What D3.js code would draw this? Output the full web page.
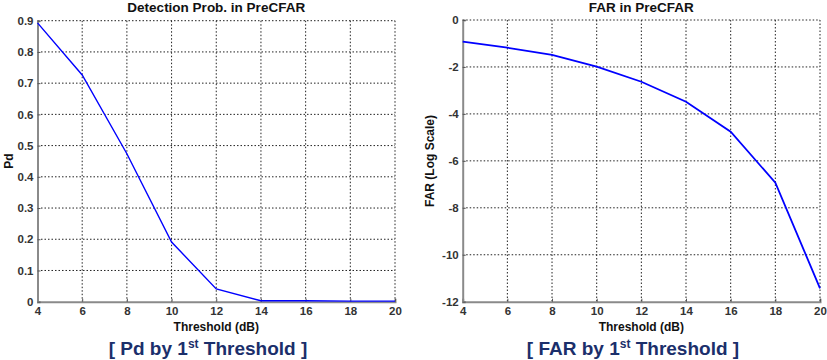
<!DOCTYPE html>
<html><head><meta charset="utf-8">
<script src="https://cdn.jsdelivr.net/npm/d3@7"></script>
<style>
body{margin:0;background:#fff;}
svg{display:block;font-family:"Liberation Sans",Arial,sans-serif;}
</style></head>
<body><svg id="c" width="827" height="360"></svg>
<script>
const thresholds = [4, 6, 8, 10, 12, 14, 16, 18, 20];
const pdValues = [0.893, 0.726, 0.474, 0.191, 0.041, 0.003, 0.003, 0.002, 0.002];
const farValues = [-0.92, -1.18, -1.49, -1.99, -2.63, -3.48, -4.76, -6.93, -11.43];
const xTicks = [4, 6, 8, 10, 12, 14, 16, 18, 20];
const pdTicks = [0, 0.1, 0.2, 0.3, 0.4, 0.5, 0.6, 0.7, 0.8, 0.9];
const farTicks = [-12, -10, -8, -6, -4, -2, 0];

const svg = d3.select("#c");

function panel(opt){
  const g = svg.append("g");
  const x = d3.scaleLinear().domain([4,20]).range([opt.x0, opt.x1]);
  const y = d3.scaleLinear().domain(opt.yDomain).range([opt.yb, opt.yt]);
  g.selectAll(".vg").data(xTicks.slice(1)).join("line")
    .attr("x1", d=>x(d)).attr("x2", d=>x(d)).attr("y1", opt.yt).attr("y2", opt.yb)
    .attr("stroke","#222").attr("stroke-width",1).attr("stroke-dasharray","1.5,2");
  g.selectAll(".hg").data(opt.yTicks.slice(1)).join("line")
    .attr("y1", d=>y(d)).attr("y2", d=>y(d)).attr("x1", opt.x0).attr("x2", opt.x1)
    .attr("stroke","#222").attr("stroke-width",1).attr("stroke-dasharray","1.5,2");
  const xa = g.append("g").attr("transform",`translate(0,${opt.yb})`)
    .call(d3.axisBottom(x).tickValues(xTicks).tickSize(-3).tickPadding(5).tickFormat(d3.format("d")));
  const ya = g.append("g").attr("transform",`translate(${opt.x0},0)`)
    .call(d3.axisLeft(y).tickValues(opt.yTicks).tickSize(-3).tickPadding(4).tickFormat(opt.fmt));
  [xa,ya].forEach(a=>{
    a.select(".domain").attr("stroke","#8a8a8a").attr("stroke-width",2);
    a.selectAll(".tick line").attr("stroke","#555");
    a.selectAll("text").attr("fill","#333").attr("font-size","11.5px").attr("font-weight","bold");
  });
  g.append("path").datum(thresholds.map((t,i)=>[t,opt.values[i]]))
    .attr("fill","none").attr("stroke","#0000ff").attr("stroke-width",opt.lw)
    .attr("d", d3.line().x(d=>x(d[0])).y(d=>y(d[1])));
  const cx = (opt.x0+opt.x1)/2;
  g.append("text").attr("x",cx).attr("y",12).attr("text-anchor","middle")
    .attr("font-size","13.5px").attr("font-weight","bold").attr("fill","#111").text(opt.title);
  g.append("text").attr("x",cx).attr("y",331).attr("text-anchor","middle")
    .attr("font-size","12px").attr("font-weight","bold").attr("fill","#111").text("Threshold (dB)");
  g.append("text").attr("transform",`translate(${opt.ylx},${opt.yly}) rotate(-90)`)
    .attr("text-anchor","middle").attr("font-size","12px").attr("font-weight","bold").attr("fill","#111").text(opt.ylabel);
  const cap = g.append("text").attr("x",opt.capx).attr("y",355).attr("text-anchor","middle")
    .attr("font-size","19px").attr("font-weight","bold").attr("fill","#1b2f6b");
  cap.append("tspan").text(opt.capA);
  cap.append("tspan").attr("font-size","12px").attr("dy","-7").text("st");
  cap.append("tspan").attr("dy","7").text(" Threshold ]");
}

const hy = f => d => f(d).replace("\u2212","-");
panel({x0:37.5, x1:395, yt:20.7, yb:301.7, yDomain:[0,0.9], yTicks:pdTicks, fmt:d=>d===0?"0":d3.format(".1f")(d),
  values:pdValues, lw:1.4, title:"Detection Prob. in PreCFAR", ylabel:"Pd", ylx:13, yly:161, capx:208, capA:"[ Pd by 1"});
panel({x0:462.7, x1:820, yt:20, yb:301.7, yDomain:[-12,0], yTicks:farTicks, fmt:hy(d3.format("d")),
  values:farValues, lw:1.8, title:"FAR in PreCFAR", ylabel:"FAR (Log Scale)", ylx:434, yly:161, capx:633, capA:"[ FAR by 1"});
</script></body></html>
